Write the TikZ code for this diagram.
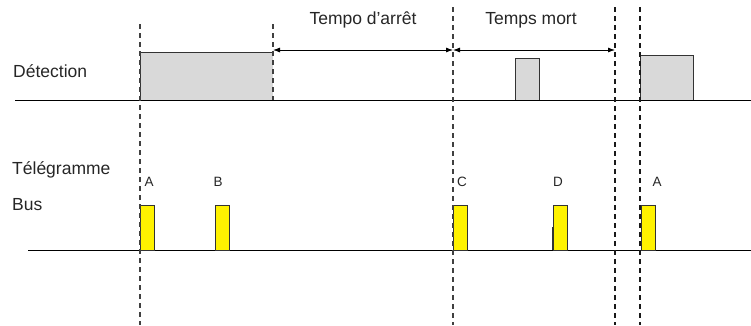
\documentclass[tikz,border=0pt]{standalone}
\usepackage{fontspec}
\setmainfont{Liberation Sans}
\usetikzlibrary{arrows.meta}
\begin{document}
\begin{tikzpicture}[x=1pt,y=-1pt,
  base/.style={line width=0.8pt,black},
  guide/.style={line width=1.2pt,dash pattern=on 5pt off 4pt,black!75},
  guideb/.style={line width=1.8pt,dash pattern=on 5pt off 4pt,black!90},
  detbox/.style={line width=0.8pt,draw=black!80,fill=black!15},
  telbox/.style={line width=0.8pt,draw=black!80,fill=yellow},
  lbl/.style={font=\fontsize{17.5}{20}\selectfont,inner sep=0pt,text=black!85},
  letter/.style={font=\fontsize{13.5}{16}\selectfont,inner sep=0pt,text=black!85},
  dim/.style={line width=0.8pt,{Latex[length=7pt,width=5pt]}-{Latex[length=7pt,width=5pt]}}]
\useasboundingbox (0,0) rectangle (751,325);
% baselines
\draw[base] (15,100) -- (751,100);
\draw[base] (28,250) -- (751,250);
% detection boxes
\fill[black!15] (140,52) rectangle (273,100);
\draw[line width=0.8pt,black!80] (140,100) -- (140,52) -- (273,52);
\draw[detbox] (515,100) -- (515,58) -- (539,58) -- (539,100);
\draw[detbox] (640,100) -- (640,55) -- (693,55) -- (693,100);
% telegram bars
\draw[telbox] (140,250) rectangle (154,205);
\draw[telbox] (215,250) rectangle (229,205);
\draw[telbox] (453,250) rectangle (467,205);
\draw[telbox] (553,250) rectangle (567,205);
\draw[line width=0.6pt,black!80] (552.5,227) -- (552.5,250);
\draw[telbox] (641,250) rectangle (655,205);
% guides
\draw[guide] (140,24) -- (140,325);
\draw[guide] (273,24) -- (273,100);
\draw[guide] (453,7) -- (453,325);
\draw[guideb] (615,7) -- (615,325);
\draw[guideb] (640,7) -- (640,325);
% dimension arrows
\coordinate (t0) at (273,50);
\coordinate (t1) at (453,50);
\coordinate (t2) at (615,50);
\draw[dim] (t0) -- (t1);
\draw[dim] (t1) -- (t2);
% labels
\node[lbl] (tarret) at (363,20) {Tempo d’arrêt};
\node[lbl] (tmort) at (531,20) {Temps mort};
\node[lbl,anchor=west] (det) at (13,71) {Détection};
\node[lbl,anchor=west] (tel) at (12,170) {Télégramme};
\node[lbl,anchor=west] (bus) at (12,205) {Bus};
\node[letter] (la) at (149,182) {A};
\node[letter] (lb) at (218,182) {B};
\node[letter] (lc) at (462,182) {C};
\node[letter] (ld) at (558,182) {D};
\node[letter] (la2) at (657,182) {A};
\end{tikzpicture}
\end{document}
